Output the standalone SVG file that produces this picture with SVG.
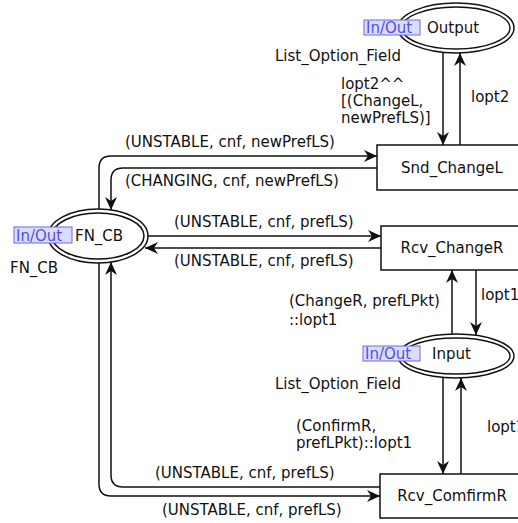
<svg xmlns="http://www.w3.org/2000/svg" width="518" height="523" viewBox="0 0 518 523">
<style>
text{font-family:"DejaVu Sans",sans-serif;font-size:15px;fill:#111}
.tag rect{fill:#dcdcff;stroke:#6666ee;stroke-width:1}
.tag text{fill:#5050dd}
.place{fill:#fff;stroke:#111;stroke-width:1.5}
.trans{fill:#fff;stroke:#111;stroke-width:1.5}
.arc{fill:none;stroke:#111;stroke-width:1.5;marker-end:url(#ah)}
.mid{text-anchor:middle}
</style>
<defs>
<marker id="ah" markerUnits="userSpaceOnUse" markerWidth="14" markerHeight="12" refX="13" refY="6" orient="auto">
<path d="M0,0 L13,6 L0,12 L4,6 z" fill="#111"/>
</marker>
</defs>
<rect width="518" height="523" fill="#fff"/>
<g id="connectors">
<path class="arc" d="M99,210 L99,168 Q99,156 111,156 L377,156"/>
<path class="arc" d="M377,168 L123,168 Q111,168 111,180 L111,210"/>
<path class="arc" d="M148,236 L381,236"/>
<path class="arc" d="M381,248 L145,248"/>
<path class="arc" d="M99,263 L99,484 Q99,496 111,496 L380,496"/>
<path class="arc" d="M380,487 L123,487 Q111,487 111,475 L111,262"/>
<path class="arc" d="M443,53 L443,145"/>
<path class="arc" d="M460,145 L460,53"/>
<path class="arc" d="M476,270 L476,335"/>
<path class="arc" d="M452,335 L452,270"/>
<path class="arc" d="M443,378 L443,474"/>
<path class="arc" d="M461,474 L461,378"/>
<text x="125" y="147">(UNSTABLE, cnf, newPrefLS)</text>
<text x="125" y="186">(CHANGING, cnf, newPrefLS)</text>
<text x="174" y="227">(UNSTABLE, cnf, prefLS)</text>
<text x="174" y="266">(UNSTABLE, cnf, prefLS)</text>
<text x="155" y="478">(UNSTABLE, cnf, prefLS)</text>
<text x="162" y="515">(UNSTABLE, cnf, prefLS)</text>
<text x="341" y="89">lopt2^^</text>
<text x="341" y="106">[(ChangeL,</text>
<text x="341" y="123">newPrefLS)]</text>
<text x="471" y="102">lopt2</text>
<text x="481" y="300">lopt1</text>
<text x="289" y="306">(ChangeR, prefLPkt)</text>
<text x="289" y="325">::lopt1</text>
<text x="296" y="431">(ConfirmR,</text>
<text x="296" y="448">prefLPkt)::lopt1</text>
<text x="487" y="432">lopt1</text>
</g>
<g id="Output">
<ellipse class="place" cx="456" cy="28" rx="58" ry="25"/>
<ellipse class="place" cx="456" cy="28" rx="54" ry="21"/>
<g class="tag"><rect x="364" y="20" width="56" height="15"/><text x="366" y="33">In/Out</text></g>
<text x="427" y="33">Output</text>
<text x="275" y="61">List_Option_Field</text>
</g>
<g id="FN_CB">
<ellipse class="place" cx="98" cy="236" rx="50" ry="27"/>
<ellipse class="place" cx="98" cy="236" rx="46" ry="23"/>
<g class="tag"><rect x="14" y="227" width="58" height="16"/><text x="16" y="241">In/Out</text></g>
<text x="75" y="241">FN_CB</text>
<text x="10" y="273">FN_CB</text>
</g>
<g id="Input">
<ellipse class="place" cx="456" cy="356" rx="58" ry="22"/>
<ellipse class="place" cx="456" cy="356" rx="54" ry="18"/>
<g class="tag"><rect x="363" y="346" width="57" height="15"/><text x="365" y="359">In/Out</text></g>
<text x="432" y="359">Input</text>
<text x="275" y="389">List_Option_Field</text>
</g>
<g id="Snd_ChangeL">
<rect class="trans" x="377" y="145" width="150" height="45"/>
<text class="mid" x="452" y="173">Snd_ChangeL</text>
</g>
<g id="Rcv_ChangeR">
<rect class="trans" x="381" y="226" width="150" height="44"/>
<text class="mid" x="452" y="253">Rcv_ChangeR</text>
</g>
<g id="Rcv_ComfirmR">
<rect class="trans" x="380" y="474" width="150" height="44"/>
<text class="mid" x="452" y="501">Rcv_ComfirmR</text>
</g>
</svg>
